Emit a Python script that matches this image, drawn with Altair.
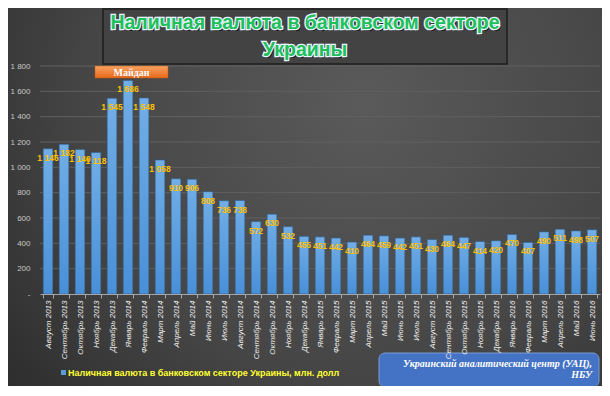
import altair as alt
import pandas as pd

months = ["Август 2013", "Сентябрь 2013", "Октябрь 2013", "Ноябрь 2013", "Декабрь 2013",
          "Январь 2014", "Февраль 2014", "Март 2014", "Апрель 2014", "Май 2014", "Июнь 2014",
          "Июль 2014", "Август 2014", "Сентябрь 2014", "Октябрь 2014", "Ноябрь 2014", "Декабрь 2014",
          "Январь 2015", "Февраль 2015", "Март 2015", "Апрель 2015", "Май 2015", "Июнь 2015",
          "Июль 2015", "Август 2015", "Сентябрь 2015", "Октябрь 2015", "Ноябрь 2015", "Декабрь 2015",
          "Январь 2016", "Февраль 2016", "Март 2016", "Апрель 2016", "Май 2016", "Июнь 2016"]
values = [1146, 1182, 1140, 1118, 1545, 1686, 1548, 1058, 910, 906, 808, 736, 738, 572, 630,
          532, 455, 451, 442, 410, 464, 459, 442, 451, 430, 464, 447, 414, 420, 470, 407,
          490, 511, 498, 507]
y_ticks = [0, 200, 400, 600, 800, 1000, 1200, 1400, 1600, 1800]

title_lines = ["Наличная валюта в банковском секторе", "Украины"]
series_name = "Наличная валюта в банковском секторе Украины, млн. долл"
source_lines = ["Украинский аналитический центр (УАЦ),", "НБУ"]
event_label = "Майдан"

W, H = 560, 228
PAD_L, PAD_T, PAD_R, PAD_B = 32, 58, 2, 92
# page -> plot coordinates helpers (page margin 8)
def px(x):
    return x - 8 - PAD_L
def py(y):
    return y - 8 - PAD_T

df = pd.DataFrame({"month": months, "value": values})
one = alt.Data(values=[{"a": 1}])
yscale = alt.Scale(domain=[0, 1800], nice=False)

xaxis = alt.Axis(labelAngle=-90, labelFontStyle="italic", labelFontSize=8,
                 labelColor="#ececec", labelFont="Liberation Sans",
                 domainColor="#a6a6a6", tickColor="#a6a6a6", tickSize=4,
                 tickBand="extent", labelPadding=2, grid=False, zindex=1)
xscale = alt.Scale(paddingInner=0.4, paddingOuter=0.2)
xenc = alt.X("month:N", sort=months, title=None, scale=xscale, axis=xaxis)
yenc = alt.Y("value:Q", title=None, scale=yscale,
             axis=alt.Axis(values=y_ticks, ticks=False, domain=False, labelPadding=10,
                           labelFontSize=8, labelColor="#c8c8c8", labelFont="Liberation Sans",
                           grid=False, zindex=1,
                           labelExpr="datum.value == 0 ? '-' : replace(format(datum.value, ','), ',', ' ')"))

bg = alt.Chart(one).mark_rect(
    color=alt.Gradient(gradient="radial",
                       stops=[alt.GradientStop(color="#5a5a5a", offset=0),
                              alt.GradientStop(color="#454545", offset=0.55),
                              alt.GradientStop(color="#262626", offset=1)],
                       x1=0.6, y1=0.35, r1=0, x2=0.6, y2=0.35, r2=0.85)
).encode(x=alt.value(px(5)), x2=alt.value(px(602)), y=alt.value(py(0)), y2=alt.value(py(388)))

grid = alt.Chart(pd.DataFrame({"v": y_ticks[1:]})).mark_rule(color="#606060", strokeWidth=1).encode(
    y=alt.Y("v:Q", scale=yscale, axis=None), x=alt.value(0), x2=alt.value(W))

bars = alt.Chart(df).mark_bar(
    color=alt.Gradient(gradient="linear",
                       stops=[alt.GradientStop(color="#72aee6", offset=0),
                              alt.GradientStop(color="#4a8fd6", offset=1)],
                       x1=0, y1=0, x2=0, y2=1),
    stroke="#2d5f94", strokeWidth=0.6
).encode(x=xenc, y=yenc)

labels = alt.Chart(df).transform_calculate(
    lbl="replace(format(datum.value, ','), ',', ' ')"
).mark_text(color="#ffc000", fontSize=8.5, fontWeight="bold", font="Liberation Sans",
            baseline="middle", dy=9).encode(
    x=xenc,
    y=alt.Y("value:Q", scale=yscale, axis=None), text="lbl:N")

title_box = alt.Chart(one).mark_rect(fill="#434343", stroke="#1e1e1e", strokeWidth=1.5).encode(
    x=alt.value(px(103)), x2=alt.value(px(507)), y=alt.value(py(9)), y2=alt.value(py(64)))

tdf = pd.DataFrame({"t": title_lines, "yy": [py(23), py(50)]})
title_shadow = alt.Chart(tdf).mark_text(font="Liberation Sans", fontWeight="bold", fontSize=19.5,
                                        color="#111111", dx=1.5, dy=1.5, baseline="middle").encode(
    x=alt.value(px(305)), y=alt.Y("yy:Q", scale=None, axis=None), text="t:N")
title_outline = alt.Chart(tdf).mark_text(font="Liberation Sans", fontWeight="bold", fontSize=19.5,
                                         color="#ffffff", stroke="#e8f4ff", strokeWidth=2.6,
                                         baseline="middle").encode(
    x=alt.value(px(305)), y=alt.Y("yy:Q", scale=None, axis=None), text="t:N")
title_text = alt.Chart(tdf).mark_text(font="Liberation Sans", fontWeight="bold", fontSize=19.5,
                                      color="#1fbf5a", baseline="middle").encode(
    x=alt.value(px(305)), y=alt.Y("yy:Q", scale=None, axis=None), text="t:N")

event_box = alt.Chart(one).mark_rect(
    color=alt.Gradient(gradient="linear",
                       stops=[alt.GradientStop(color="#f7a262", offset=0),
                              alt.GradientStop(color="#e8681a", offset=1)],
                       x1=0, y1=0, x2=0, y2=1),
    stroke="#c05a10", strokeWidth=0.5
).encode(x=alt.value(px(95)), x2=alt.value(px(168)), y=alt.value(py(66)), y2=alt.value(py(78)))
event_text = alt.Chart(pd.DataFrame({"t": [event_label]})).mark_text(
    font="Liberation Serif", fontWeight="bold", fontSize=10, color="white", baseline="middle"
).encode(x=alt.value(px(131.5)), y=alt.value(py(72.5)), text="t:N")

legend_sym = alt.Chart(one).mark_rect(color="#5b9bd5").encode(
    x=alt.value(px(61)), x2=alt.value(px(66)), y=alt.value(py(370)), y2=alt.value(py(375)))
legend_text = alt.Chart(pd.DataFrame({"t": [series_name]})).mark_text(
    font="Liberation Sans", fontWeight="bold", fontSize=9, color="#ffff33", align="left",
    baseline="middle").encode(x=alt.value(px(68)), y=alt.value(py(373)), text="t:N")

src_box = alt.Chart(one).mark_rect(fill="#4472c4", stroke="#7f9bd3", strokeWidth=1,
                                   cornerRadius=6).encode(
    x=alt.value(px(379)), x2=alt.value(px(599)), y=alt.value(py(353)), y2=alt.value(py(387)))
sdf = pd.DataFrame({"t": source_lines, "yy": [py(364), py(375)]})
src_text = alt.Chart(sdf).mark_text(font="Liberation Serif", fontWeight="bold", fontStyle="italic",
                                    fontSize=10, color="white", align="right", baseline="middle").encode(
    x=alt.value(px(592)), y=alt.Y("yy:Q", scale=None, axis=None), text="t:N")

chart = alt.layer(bg, grid, bars, labels, title_box, title_shadow, title_outline, title_text,
                  event_box, event_text, legend_sym, legend_text, src_box, src_text).resolve_scale(
    y="independent"
).properties(
    width=W, height=H,
    autosize=alt.AutoSizeParams(type="none"),
    padding={"left": PAD_L, "top": PAD_T, "right": PAD_R, "bottom": PAD_B},
    background="#3a3a3a"
).configure_view(strokeWidth=0)

chart.save("out.html", embed_options={"renderer": "svg", "actions": False})
